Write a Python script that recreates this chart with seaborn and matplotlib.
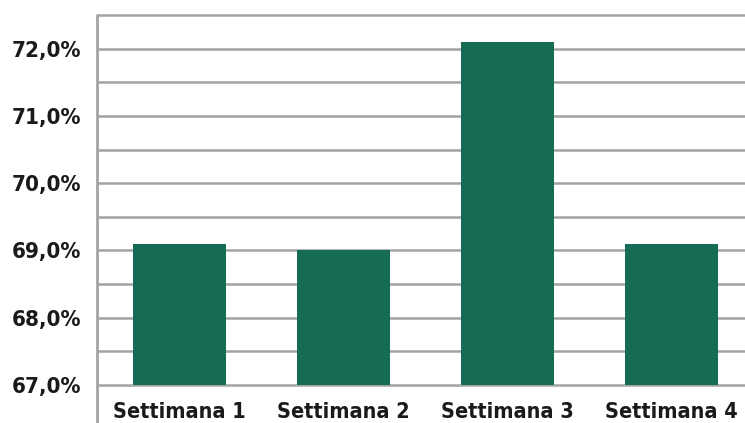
import matplotlib
matplotlib.use("Agg")
import matplotlib.pyplot as plt
import seaborn as sns
import pandas as pd

categories = ["Settimana 1", "Settimana 2", "Settimana 3", "Settimana 4"]
values = [69.1, 69.0, 72.1, 69.1]
y_ticks = [67.0, 68.0, 69.0, 70.0, 71.0, 72.0]
y_tick_labels = ["67,0%", "68,0%", "69,0%", "70,0%", "71,0%", "72,0%"]

sns.set_theme(style="white")
plt.rcParams['font.family'] = ['DejaVu Sans']
plt.rcParams['font.stretch'] = 'condensed'

df = pd.DataFrame({"cat": categories, "val": values})

fig = plt.figure(figsize=(7.45, 4.23), dpi=100)
ax = fig.add_axes([97.5/745, 1 - 385/423, 656/745, (385 - 15)/423])

ax.set_ylim(67.0, 72.5)
for y in [67.0 + 0.5 * i for i in range(12)]:
    ax.axhline(y, color="#a3a3a3", linewidth=1.8, zorder=0, clip_on=False)

sns.barplot(data=df, x="cat", y="val", color="#156b54", saturation=1,
            width=0.57, ax=ax, zorder=2, linewidth=0)
ax.set_ylim(67.0, 72.5)
ax.set_xlim(-0.5, 3.5)

ax.set_yticks(y_ticks)
ax.set_yticklabels(y_tick_labels)
ax.set_xlabel("")
ax.set_ylabel("")
for s in ax.spines.values():
    s.set_visible(False)
ax.axvline(-0.5, ymin=-0.11, ymax=1, color="#a3a3a3", linewidth=2, clip_on=False, zorder=3)

ax.tick_params(axis="y", length=0, pad=12, labelsize=16, labelcolor="#1a1a1a")
ax.tick_params(axis="x", length=0, pad=12, labelsize=15.5, labelcolor="#1a1a1a")
for lab in ax.get_xticklabels() + ax.get_yticklabels():
    lab.set_fontweight("bold")
    lab.set_fontstretch("condensed")

fig.savefig("out.png", dpi=100)
